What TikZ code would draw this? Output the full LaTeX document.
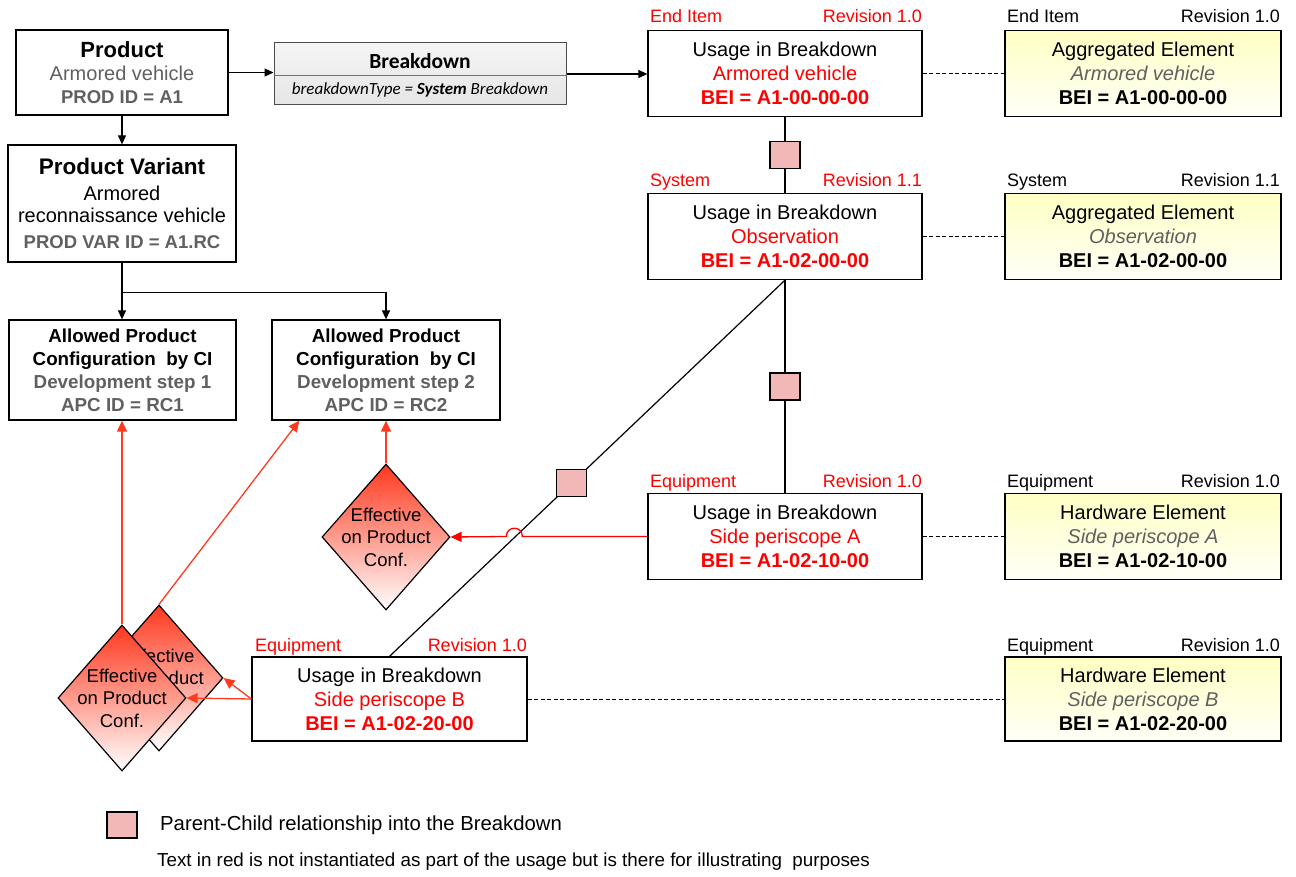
\documentclass[tikz,border=0pt]{standalone}
\usepackage{fontspec}
\setmainfont{Liberation Sans}
\newfontfamily\calfont{Carlito}
\usetikzlibrary{arrows.meta,shapes.geometric,calc}

\definecolor{txtgray}{HTML}{606060}
\definecolor{relred}{HTML}{FF0000}
\definecolor{effred}{HTML}{FF3B1F}
\definecolor{pcpink}{HTML}{F2B8B8}
\definecolor{aggyellow}{HTML}{FFFFC4}
\definecolor{bdgray}{HTML}{F0F0F0}

\newcommand{\fs}[1]{\fontsize{#1}{24}\selectfont}

\tikzset{
  box/.style={draw=black, line width=1.3pt, fill=white, inner sep=0pt, align=center,
              font=\fs{20}},
  usage/.style={box, minimum width=274pt, minimum height=86pt},
  aggbox/.style={box, minimum width=276pt, minimum height=86pt,
                 top color=aggyellow, bottom color=white!97!yellow},
  pcsq/.style={draw=black, line width=1.2pt, fill=pcpink, minimum width=30pt,
               minimum height=27pt, inner sep=0pt},
  effd/.style={diamond, draw=black, line width=1.2pt, minimum width=128pt,
               minimum height=146pt, inner sep=0pt, top color=effred!95!red,
               bottom color=white, shading angle=0},
  efftext/.style={align=center, font=\fontsize{18.5}{22.5}\selectfont, inner sep=0pt},
  arr/.style={line width=1.2pt, -{Triangle[length=9pt,width=8pt]}},
  effarr/.style={draw=effred, line width=1.3pt, -{Triangle[length=11pt,width=10pt]}},
  dashlink/.style={line width=1pt, dash pattern=on 4pt off 2.5pt},
  redlab/.style={text=relred, font=\fontsize{18}{20}\selectfont, inner sep=0pt},
  blklab/.style={text=black, font=\fontsize{18}{20}\selectfont, inner sep=0pt},
}

\begin{document}
\begin{tikzpicture}[x=1pt,y=-1pt]
\useasboundingbox (0,0) rectangle (1296,877);

% ---------- product side ----------
\node[box, minimum width=212pt, minimum height=85pt] (prod) at (122,72.5)
  {{\fs{22}\bfseries Product}\\[-1pt]
   {\color{txtgray}Armored vehicle}\\[-1pt]
   {\fs{18.5}\bfseries\color{txtgray}PROD ID = A1}};

\node[box, minimum width=228pt, minimum height=117pt] (var) at (122,203.5)
  {{\fs{22.5}\bfseries Product Variant}\\[2pt]
   Armored\\[-2pt]
   reconnaissance vehicle\\[2pt]
   {\fs{18.5}\bfseries\color{txtgray}PROD VAR ID = A1.RC}};

\node[box, minimum width=227pt, minimum height=100pt, font=\fontsize{18.8}{23}\selectfont\bfseries]
  (apc1) at (122.5,370)
  {Allowed Product\\ Configuration\ \ by CI\\
   {\color{txtgray}Development step 1}\\ {\color{txtgray}APC ID = RC1}};

\node[box, minimum width=228pt, minimum height=100pt, font=\fontsize{18.8}{23}\selectfont\bfseries]
  (apc2) at (386,370)
  {Allowed Product\\ Configuration\ \ by CI\\
   {\color{txtgray}Development step 2}\\ {\color{txtgray}APC ID = RC2}};

\draw[arr] (prod.south) -- (var.north);
\draw[arr] (var.south) -- (var.south |- apc1.north);
\draw[arr] ($(var.south)+(0,30)$) -| (apc2.north);

% ---------- breakdown ----------
\node[draw=black!70, line width=1pt, top color=bdgray!70, bottom color=black!10,
      minimum width=292pt, minimum height=62pt, inner sep=0pt] (bd) at (420,74) {};
\draw[black!55, line width=0.8pt] ($(bd.west)+(0,1)$) -- ($(bd.east)+(0,1)$);
\node[font=\calfont\fontsize{21.5}{24}\selectfont\bfseries, inner sep=0pt] (bdtitle) at (420,61) {Breakdown};
\node[font=\calfont\fontsize{17}{20}\selectfont\itshape, inner sep=0pt] (bdtype) at (420,90)
  {breakdownType = \textbf{System} Breakdown};

\draw[arr] (prod.east) -- (prod.east -| bd.west);

% ---------- usages ----------
\node[usage] (ub1) at (785,73.5)
  {Usage in Breakdown\\ {\color{relred}Armored vehicle}\\ {\bfseries\color{relred}BEI = A1-00-00-00}};
\node[usage] (ub2) at (785,236.5)
  {Usage in Breakdown\\ {\color{relred}Observation}\\ {\bfseries\color{relred}BEI = A1-02-00-00}};
\node[usage] (ub3) at (785,536.5)
  {Usage in Breakdown\\ {\color{relred}Side periscope A}\\ {\bfseries\color{relred}BEI = A1-02-10-00}};
\node[usage, minimum width=275pt, minimum height=84pt] (ub4) at (389.5,699)
  {Usage in Breakdown\\ {\color{relred}Side periscope B}\\ {\bfseries\color{relred}BEI = A1-02-20-00}};

\draw[arr] (bd.east) -- (bd.east -| ub1.west);

\node[redlab, anchor=base west] (ub1k) at (650,23) {End Item};
\node[redlab, anchor=base east] (ub1r) at (922,23) {Revision 1.0};
\node[redlab, anchor=base west] (ub2k) at (650,187) {System};
\node[redlab, anchor=base east] (ub2r) at (922,187) {Revision 1.1};
\node[redlab, anchor=base west] (ub3k) at (650,487) {Equipment};
\node[redlab, anchor=base east] (ub3r) at (922,487) {Revision 1.0};
\node[redlab, anchor=base west] (ub4k) at (255,651) {Equipment};
\node[redlab, anchor=base east] (ub4r) at (527,651) {Revision 1.0};

% ---------- elements ----------
\node[aggbox] (ag1) at (1143,73.5)
  {Aggregated Element\\ {\itshape\color{txtgray}Armored vehicle}\\ {\bfseries BEI = A1-00-00-00}};
\node[aggbox] (ag2) at (1143,236.5)
  {Aggregated Element\\ {\itshape\color{txtgray}Observation}\\ {\bfseries BEI = A1-02-00-00}};
\node[aggbox] (hw1) at (1143,536.5)
  {Hardware Element\\ {\itshape\color{txtgray}Side periscope A}\\ {\bfseries BEI = A1-02-10-00}};
\node[aggbox, minimum height=84pt] (hw2) at (1143,699)
  {Hardware Element\\ {\itshape\color{txtgray}Side periscope B}\\ {\bfseries BEI = A1-02-20-00}};

\node[blklab, anchor=base west] (ag1k) at (1007,23) {End Item};
\node[blklab, anchor=base east] (ag1r) at (1280,23) {Revision 1.0};
\node[blklab, anchor=base west] (ag2k) at (1007,187) {System};
\node[blklab, anchor=base east] (ag2r) at (1280,187) {Revision 1.1};
\node[blklab, anchor=base west] (hw1k) at (1007,487) {Equipment};
\node[blklab, anchor=base east] (hw1r) at (1280,487) {Revision 1.0};
\node[blklab, anchor=base west] (hw2k) at (1007,651) {Equipment};
\node[blklab, anchor=base east] (hw2r) at (1280,651) {Revision 1.0};

\draw[dashlink] (ub1.east) -- (ag1.west);
\draw[dashlink] (ub2.east) -- (ag2.west);
\draw[dashlink] (ub3.east) -- (hw1.west);
\draw[dashlink] (ub4.east) -- (hw2.west);

% ---------- parent-child links ----------
\draw[line width=1.2pt] (ub1.south) -- (ub2.north)
  node[pcsq, midway] (pc1) {};
\draw[line width=1.2pt] (ub2.south) -- (ub3.north)
  node[pcsq, midway] (pc2) {};
\draw[line width=1.2pt] (ub2.south) -- (ub4.north)
  node[pcsq, pos=0.54] (pc3) {};

% ---------- effectivity ----------
\node[effd] (d1) at (386,537) {};
\node[efftext] (d1t) at (d1) {Effective\\ on Product\\ Conf.};

\node[effd] (d2b) at (159,678) {};
\node[efftext] (d2bt) at (d2b) {Effective\\ on Product\\ Conf.};
\node[effd] (d2) at (122,698) {};
\node[efftext] (d2t) at (d2) {Effective\\ on Product\\ Conf.};

\draw[effarr] (d1.north) -- (apc2.south);
\draw[effarr] (d2.north) -- (d2.north |- apc1.south);
\draw[effarr] (d2b.north) -- ($(apc2.south west)+(28,0)$);

% line hops upward over the diagonal link
\draw[effarr, draw=relred] (ub3.west) -- ++(-125,0)
  .. controls +(0,-11) and +(0,-11) .. ++(-16,0) -- (d1.east);
\draw[effarr] (ub4.west) -- (d2.east);
\draw[effarr] (ub4.west) -- (d2b.east);

% ---------- legend ----------
\node[pcsq, minimum width=30pt, minimum height=26pt] (legsq) at (122,825) {};
\node[anchor=west, inner sep=0pt, font=\fontsize{20.3}{22}\selectfont] (legpc) at (160,825)
  {Parent-Child relationship into the Breakdown};
\node[anchor=west, inner sep=0pt, font=\fontsize{18.8}{22}\selectfont] (legred) at (157,862)
  {Text in red is not instantiated as part of the usage but is there for illustrating\ \ purposes};
\end{tikzpicture}
\end{document}
